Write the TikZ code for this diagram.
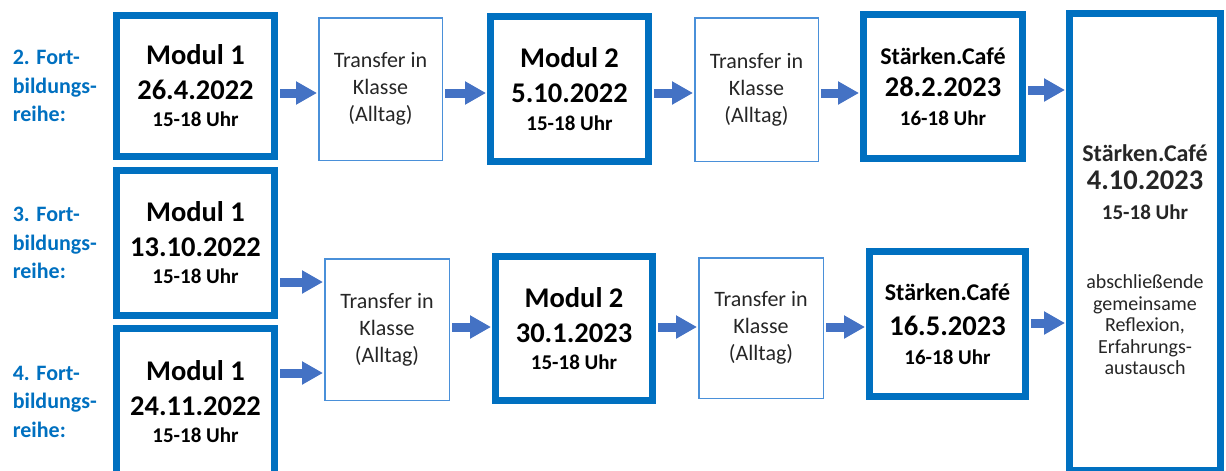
\documentclass[tikz,border=0pt]{standalone}
\usepackage{fontspec}
\setmainfont{Carlito}
\usetikzlibrary{arrows.meta,positioning}

\definecolor{modblue}{HTML}{0070C0}
\definecolor{thinblue}{HTML}{4A90D9}
\definecolor{arrowblue}{HTML}{4472C4}
\definecolor{darktext}{HTML}{262626}
\setlength{\lineskiplimit}{-50pt}

\tikzset{
  modul/.style={draw=modblue, line width=7pt, align=center, inner sep=0pt,
    font=\bfseries\fontsize{28.5}{35}\selectfont},
  transfer/.style={draw=thinblue, line width=1.5pt, align=center, inner sep=0pt,
    text=darktext, font=\fontsize{22}{27}\selectfont},
  reihe/.style={text=modblue, align=left, inner sep=0pt,
    font=\bfseries\fontsize{22}{28.5}\selectfont},
  flow/.style={draw=arrowblue, line width=9pt, -{Triangle[length=21pt,width=22pt]},
    shorten <=2pt, shorten >=1pt}
}
\newcommand{\uhr}[1]{{\fontsize{21}{26}\selectfont #1}}
\newcommand{\cafe}[1]{{\fontsize{24}{28}\selectfont #1}}

\begin{document}
\begin{tikzpicture}[x=1pt, y=-1pt]
\useasboundingbox (0,0) rectangle (1226,471);
\clip (0,0) rectangle (1226,471);

% heights of the arrows
\coordinate (r1) at (0,93);
\coordinate (r1e) at (0,90);
\coordinate (r2a) at (0,282);
\coordinate (r2b) at (0,373);
\coordinate (r2) at (0,327);
\coordinate (r2e) at (0,323);

% 2. Fortbildungsreihe
\node [modul, minimum width=158pt, minimum height=141pt] (m1a) at (195.5,86) {Modul 1\\26.4.2022\\[-8pt]\uhr{15-18 Uhr}};
\node [transfer, minimum width=123.5pt, minimum height=142.5pt] (ta) at (380.5,89) {Transfer in\\Klasse\\(Alltag)};
\node [modul, minimum width=158pt, minimum height=145pt] (m2a) at (569.5,89) {Modul 2\\5.10.2022\\[-7pt]\uhr{15-18 Uhr}};
\node [transfer, minimum width=123.5pt, minimum height=143.5pt] (tb) at (756.5,89.5) {Transfer in\\Klasse\\(Alltag)};
\node [modul, minimum width=159pt, minimum height=144pt] (sa) at (943,86.5) {\cafe{Stärken.Café}\\[-3pt]28.2.2023\\[-6pt]\uhr{16-18 Uhr}};

% 3. und 4. Fortbildungsreihe
\node [modul, minimum width=158pt, minimum height=145pt] (m1b) at (195.5,243) {Modul 1\\13.10.2022\\[-8pt]\uhr{15-18 Uhr}};
\node [modul, minimum width=158pt, minimum height=146pt] (m1c) at (195.5,401.5) {Modul 1\\24.11.2022\\[-8pt]\uhr{15-18 Uhr}};
\node [transfer, minimum width=124.5pt, minimum height=141.5pt] (tc) at (387,329.5) {Transfer in\\Klasse\\(Alltag)};
\node [modul, minimum width=157pt, minimum height=144pt] (m2b) at (574,328.5) {Modul 2\\30.1.2023\\[-8pt]\uhr{15-18 Uhr}};
\node [transfer, minimum width=124.5pt, minimum height=140.5pt] (td) at (761,328) {Transfer in\\Klasse\\(Alltag)};
\node [modul, minimum width=156pt, minimum height=145pt] (sb) at (947.5,324) {\cafe{Stärken.Café}\\16.5.2023\\[-6pt]\uhr{16-18 Uhr}};

% gemeinsamer Abschluss
\node [modul, minimum width=151pt, minimum height=457pt] (ende) at (1145,242) {};
\node [align=center, inner sep=0pt, text=darktext, font=\fontsize{20}{21.5}\selectfont] (endetxt) at (1145,260)
  {\textbf{\cafe{Stärken.Café}}\\[6.5pt]\textbf{\fontsize{28.5}{30}\selectfont 4.10.2023}\\[8.5pt]\textbf{\uhr{15-18 Uhr}}\\[47.5pt]
   abschließende\\gemeinsame\\Reflexion,\\Erfahrungs-\\austausch};

% Reihen
\node [reihe, left=16pt of m1a] (l2) {2. Fort-\\bildungs-\\reihe:};
\node [reihe, left=16pt of m1b] (l3) {3. Fort-\\bildungs-\\reihe:};
\node [reihe, left=16pt of m1c] (l4) {4. Fort-\\bildungs-\\reihe:};

% Pfeile
\draw [flow] (m1a.east |- r1) -- (ta.west |- r1);
\draw [flow] (ta.east |- r1) -- (m2a.west |- r1);
\draw [flow] (m2a.east |- r1) -- (tb.west |- r1);
\draw [flow] (tb.east |- r1) -- (sa.west |- r1);
\draw [flow] (sa.east |- r1e) -- (ende.west |- r1e);
\draw [flow] (m1b.east |- r2a) -- (tc.west |- r2a);
\draw [flow] (m1c.east |- r2b) -- (tc.west |- r2b);
\draw [flow] (tc.east |- r2) -- (m2b.west |- r2);
\draw [flow] (m2b.east |- r2) -- (td.west |- r2);
\draw [flow] (td.east |- r2) -- (sb.west |- r2);
\draw [flow] (sb.east |- r2e) -- (ende.west |- r2e);

\end{tikzpicture}
\end{document}
